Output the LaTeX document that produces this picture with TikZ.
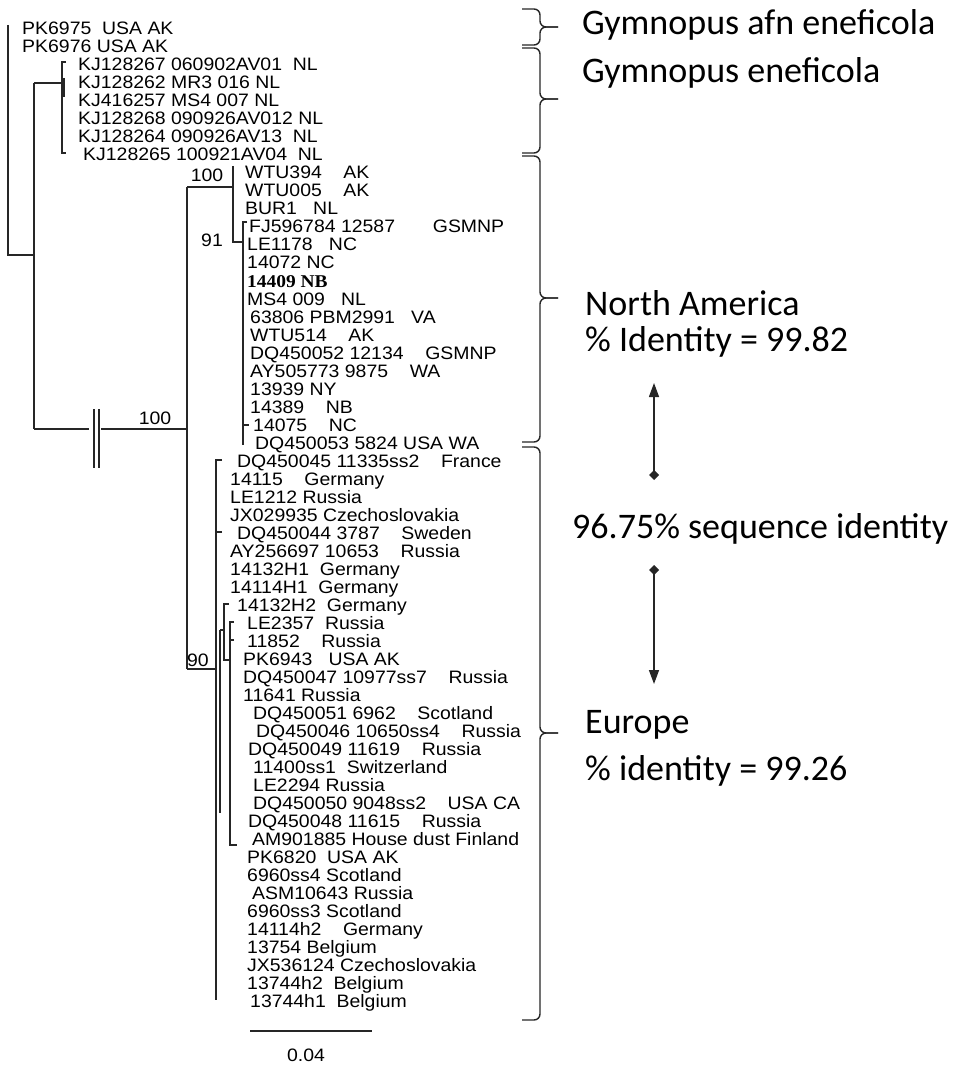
\documentclass[tikz,border=0pt]{standalone}
\usepackage{fontspec}
\usepackage{tikz}
\usetikzlibrary{arrows.meta}
\newfontfamily\leaffont{Liberation Sans}[FakeStretch=1.08]
\newfontfamily\leafbold{Liberation Serif}[FakeStretch=1.08]
\newfontfamily\notefont{Carlito}
\pgfdeclarelayer{bg}
\pgfsetlayers{bg,main}
\tikzset{
        leaf/.style={anchor=base west, inner sep=0pt, font=\leaffont\fontsize{18}{18}\selectfont},
        note/.style={anchor=base west, inner sep=0pt, font=\notefont\fontsize{36}{36}\selectfont},
        support/.style={inner sep=0pt, font=\leaffont\fontsize{18}{18}\selectfont},
        branch/.style={line width=1.4pt, black!85},
        clade/.style={line width=1.4pt, black!85, rounded corners=6pt},
        span/.style={line width=1.4pt, black!85, {Diamond[length=10pt,width=10pt]}-{Triangle[length=14pt,width=10pt]}},
}
\newcommand{\clade}[3]{%
        \draw[clade] (522, #1) -| (540, #2) -- (558, #2);
        \draw[clade] (522, #3) -| (540, #2) -- (558, #2);
}
\begin{document}
\begin{tikzpicture}[x=1pt, y=-1pt]
        \useasboundingbox (0,0) rectangle (956,1067);
        \node (l1) [leaf] at (22, 35) {PK6975~~USA AK};
        \node (l2) [leaf] at (22, 53) {PK6976 USA AK};
        \node (l3) [leaf] at (78, 71) {KJ128267 060902AV01~~NL};
        \node (l4) [leaf] at (78, 89) {KJ128262 MR3 016 NL};
        \node (l5) [leaf] at (78, 107) {KJ416257 MS4 007 NL};
        \node (l6) [leaf] at (78, 125) {KJ128268 090926AV012 NL};
        \node (l7) [leaf] at (78, 143) {KJ128264 090926AV13~~NL};
        \node (l8) [leaf] at (83, 161) {KJ128265 100921AV04~~NL};
        \node (l9) [leaf] at (245, 179) {WTU394~~~~AK};
        \node (l10) [leaf] at (245, 197) {WTU005~~~~AK};
        \node (l11) [leaf] at (245, 215) {BUR1~~~NL};
        \node (l12) [leaf] at (249, 233) {FJ596784 12587~~~~~~~GSMNP};
        \node (l13) [leaf] at (247, 251) {LE1178~~~NC};
        \node (l14) [leaf] at (247, 269) {14072 NC};
        \node (l15) [leaf, font=\leafbold\bfseries\fontsize{18}{18}\selectfont] at (247, 287) {14409 NB};
        \node (l16) [leaf] at (247, 305) {MS4 009~~~NL};
        \node (l17) [leaf] at (250, 323) {63806 PBM2991~~~VA};
        \node (l18) [leaf] at (250, 341) {WTU514~~~~AK};
        \node (l19) [leaf] at (250, 359) {DQ450052 12134~~~~GSMNP};
        \node (l20) [leaf] at (250, 377) {AY505773 9875~~~~WA};
        \node (l21) [leaf] at (250, 395) {13939 NY};
        \node (l22) [leaf] at (250, 413) {14389~~~~NB};
        \node (l23) [leaf] at (253, 431) {14075~~~~NC};
        \node (l24) [leaf] at (255, 449) {DQ450053 5824 USA WA};
        \node (l25) [leaf] at (237, 467) {DQ450045 11335ss2~~~~France};
        \node (l26) [leaf] at (230, 485) {14115~~~~Germany};
        \node (l27) [leaf] at (230, 503) {LE1212 Russia};
        \node (l28) [leaf] at (230, 521) {JX029935 Czechoslovakia};
        \node (l29) [leaf] at (237, 539) {DQ450044 3787~~~~Sweden};
        \node (l30) [leaf] at (230, 557) {AY256697 10653~~~~Russia};
        \node (l31) [leaf] at (230, 575) {14132H1~~Germany};
        \node (l32) [leaf] at (230, 593) {14114H1~~Germany};
        \node (l33) [leaf] at (237, 611) {14132H2~~Germany};
        \node (l34) [leaf] at (247, 629) {LE2357~~Russia};
        \node (l35) [leaf] at (247, 647) {11852~~~~Russia};
        \node (l36) [leaf] at (243, 665) {PK6943~~~USA AK};
        \node (l37) [leaf] at (243, 683) {DQ450047 10977ss7~~~~Russia};
        \node (l38) [leaf] at (243, 701) {11641 Russia};
        \node (l39) [leaf] at (253, 719) {DQ450051 6962~~~~Scotland};
        \node (l40) [leaf] at (256, 737) {DQ450046 10650ss4~~~~Russia};
        \node (l41) [leaf] at (248, 755) {DQ450049 11619~~~~Russia};
        \node (l42) [leaf] at (253, 773) {11400ss1~~Switzerland};
        \node (l43) [leaf] at (253, 791) {LE2294 Russia};
        \node (l44) [leaf] at (253, 809) {DQ450050 9048ss2~~~~USA CA};
        \node (l45) [leaf] at (248, 827) {DQ450048 11615~~~~Russia};
        \node (l46) [leaf] at (252, 845) {AM901885 House dust Finland};
        \node (l47) [leaf] at (247, 863) {PK6820~~USA AK};
        \node (l48) [leaf] at (247, 881) {6960ss4 Scotland};
        \node (l49) [leaf] at (252, 899) {ASM10643 Russia};
        \node (l50) [leaf] at (247, 917) {6960ss3 Scotland};
        \node (l51) [leaf] at (247, 935) {14114h2~~~~Germany};
        \node (l52) [leaf] at (247, 953) {13754 Belgium};
        \node (l53) [leaf] at (247, 971) {JX536124 Czechoslovakia};
        \node (l54) [leaf] at (247, 989) {13744h2~~Belgium};
        \node (l55) [leaf] at (250, 1007) {13744h1~~Belgium};
        \node (bs1) [support] at (155, 418) {100};
        \node (bs2) [support] at (207, 175) {100};
        \node (bs3) [support] at (212, 240) {91};
        \node (bs4) [support] at (198, 660) {90};
        \node (scale) [support] at (306, 1055) {0.04};
        \node (afn) [note] at (582, 35) {Gymnopus afn eneficola};
        \node (ene) [note] at (582, 83) {Gymnopus eneficola};
        \node (nam) [note] at (585, 315) {North America};
        \node (nid) [note] at (585, 351) {\% Identity = 99.82};
        \node (seq) [note] at (572, 538) {96.75\% sequence identity};
        \node (eur) [note] at (585, 733) {Europe};
        \node (eid) [note] at (585, 780) {\% identity = 99.26};
        \coordinate (r0) at (8, 25);
        \coordinate (n1) at (34, 255);
        \coordinate (n1a) at (34, 83);
        \coordinate (n1b) at (34, 429);
        \coordinate (kj) at (62, 83);
        \coordinate (kja) at (66, 62);
        \coordinate (kjb) at (66, 153);
        \coordinate (cut1) at (89, 429);
        \coordinate (cut2) at (101, 429);
        \coordinate (n2) at (187, 429);
        \coordinate (n2a) at (187, 187);
        \coordinate (n2b) at (187, 669);
        \coordinate (na) at (233, 187);
        \coordinate (naa) at (233, 166);
        \coordinate (nab) at (233, 242);
        \coordinate (n91) at (243, 242);
        \coordinate (n91a) at (247, 222);
        \coordinate (n91b) at (243, 445);
        \coordinate (eu) at (216, 669);
        \coordinate (eua) at (222, 460);
        \coordinate (eub) at (216, 1000);
        \coordinate (eut) at (222, 532);
        \coordinate (s1a) at (220, 630);
        \coordinate (s1b) at (220, 813);
        \coordinate (s2) at (224, 630);
        \coordinate (s2a) at (229, 604);
        \coordinate (s2b) at (224, 660);
        \coordinate (s3) at (230, 660);
        \coordinate (s3a) at (234, 622);
        \coordinate (s3b) at (237, 845);
        \coordinate (s3t) at (234, 640);
        \coordinate (bar0) at (250, 1031);
        \coordinate (bar1) at (372, 1031);
        \coordinate (up0) at (654, 480);
        \coordinate (up1) at (654, 383);
        \coordinate (dn0) at (654, 565);
        \coordinate (dn1) at (654, 684);
        \begin{pgfonlayer}{bg}
                \draw[branch] (r0) |- (n1);
                \draw[branch] (n1a) -- (n1b);
                \draw[branch] (n1a) -- (kj);
                \draw[branch] (kja) -| (kj) |- (kjb);
                \draw[branch] (64, 78) -- (64, 97);
                \draw[branch] (n1b) -- (cut1);
                \draw[branch] (cut2) -- (n2);
                \draw[branch] (94, 409) -- (94, 468);
                \draw[branch] (99, 409) -- (99, 468);
                \draw[branch] (n2a) -- (n2b);
                \draw[branch] (n2a) -- (na);
                \draw[branch] (naa) -- (nab) -- (n91);
                \draw[branch] (n91a) -| (n91b);
                \draw[branch] (243, 425) -- (249, 425);
                \draw[branch] (n2b) -- (eu);
                \draw[branch] (eua) -| (eub);
                \draw[branch] (eut) -- (216, 532);
                \draw[branch] (s1a) -- (s1b);
                \draw[branch] (s1a) -- (s2);
                \draw[branch] (s2a) -| (s2b) -- (s3);
                \draw[branch] (s3a) -| (s3) |- (s3b);
                \draw[branch] (s3t) -- (230, 640);
                \draw[branch] (bar0) -- (bar1);
                \clade{9}{27}{45}
                \clade{48}{99}{153}
                \clade{156}{298}{442}
                \clade{447}{733}{1020}
                \draw[span] (up0) -- (up1);
                \draw[span] (dn0) -- (dn1);
        \end{pgfonlayer}
\end{tikzpicture}
\end{document}
